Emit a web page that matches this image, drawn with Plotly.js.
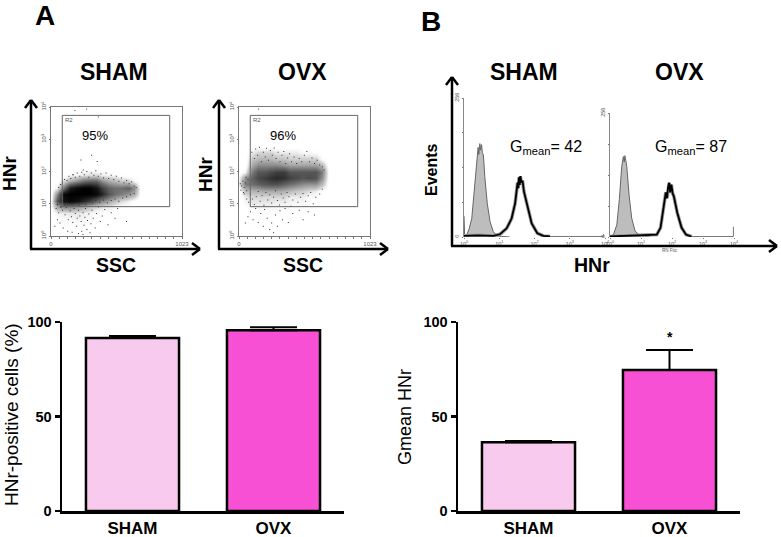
<!DOCTYPE html>
<html><head><meta charset="utf-8">
<script src="https://cdn.plot.ly/plotly-3.0.1.min.js"></script>
<style>html,body{margin:0;padding:0;background:#fff}#c{width:781px;height:537px}</style>
</head><body><div id="c"></div>
<script>
// ---------- bar data ----------
const groups = ['SHAM','OVX'];
const barColors = ['#F8CBEE','#F750D4'];
const positiveCells = [91.5,95.6];
const positiveErr = [1.1,1.6];
const gmeanValues = [36.4,74.6];
const gmeanErr = [0.7,10.6];

// ---------- dot plots: density (0 = empty, 10 = solid), SSC columns, log10 HNr rows ----------
const densitySSC = [0,50,100,150,200,250,300,350,400,450,500,550,600,650,700];
const shamDensityLog = [0,0.5,0.7,0.9,1.1,1.3,1.5,1.7,1.9,2.1,4];
const shamDensity = [
 [0,0,0,0,0,0,0,0,0,0,0,0,0,0,0],
 [0,.4,.6,.6,.7,.7,.5,.3,.2,.1,0,0,0,0,0],
 [0,.8,1,1.2,1.2,1,.8,.5,.4,.3,.2,.1,0,0,0],
 [.2,3,4,4,3.5,3,2.2,1.5,1.2,1,.5,.3,.1,0,0],
 [.3,6,9,9.5,9,8,7,5.5,4.2,3.2,2.3,1.5,1,.3,0],
 [0,4,9.5,10,10,10,10,9.5,8,6,5,4.5,3.8,3,0],
 [0,1,5,8.5,9.5,10,10,9,7,5.5,5,5,5.5,4,0],
 [0,0,1.5,3,4,5,5.5,5.5,4,3,2.6,2,1.8,.8,0],
 [0,0,0,.6,.8,1.2,1.4,1.5,1,.8,.6,.3,.1,0,0],
 [0,0,0,0,.1,.1,.1,.1,.1,0,0,0,0,0,0],
 [0,0,0,0,0,0,0,0,0,0,0,0,0,0,0]];
const ovxDensityLog = [0,0.6,0.8,1.0,1.2,1.4,1.6,1.8,2.0,2.2,2.4,2.6,2.8,4];
const ovxDensity = [
 [0,0,0,0,0,0,0,0,0,0,0,0,0,0,0],
 [0,0,.2,.3,.3,.3,.2,.1,.1,0,0,0,0,0,0],
 [0,.1,.5,.5,.5,.5,.5,.4,.3,.2,.1,0,0,0,0],
 [0,.5,1,1,1,1,.8,.8,.7,.5,.5,.3,.1,0,0],
 [0,1,1.5,1.5,1.5,1.5,1.5,1.5,1,1,1,.5,.5,0,0],
 [0,2.2,2.6,2.8,3,3,3,2.8,2.4,2,1.8,1.4,1,.2,0],
 [1,4.5,5,5.5,6,6.2,6.2,5.5,5,4.5,4,3.8,3.8,2.4,0],
 [.8,3.8,5.5,6.5,7,7.5,7.8,7.5,6.8,6.4,6,6.4,6,3.8,0],
 [0,.7,4.5,6,6,6.5,7,7,6,6,6,6,6,4.5,0],
 [0,0,3,4,4,4,4,3.6,3.2,3.2,3.2,3.2,3.2,2.4,0],
 [0,0,2,2.6,2.6,2.6,2.2,2.2,1.8,1.8,1.8,1.8,1.8,.5,0],
 [0,0,1,1.5,1.5,1.5,1,1,1,1,.5,.5,.3,0,0],
 [0,0,0,0,.1,.1,0,0,0,0,0,0,0,0,0],
 [0,0,0,0,0,0,0,0,0,0,0,0,0,0,0]];
const shamDotSSC = [278,187,369,317,234,361,252,174,
 40,60,75,90,110,120,135,150,160,170,180,190,200,205,215,225,235,240,250,258,265,270,280,285,295,305,312,320,330,345,355,370,385,400,420,445,470,500,520,590,50,30,95,130,165,215,250,70,
 60,75,90,105,125,140,155,170,190,205,225,240,260,280,295,315,335,350,370,390,410,430,450,470,490,510,530,550,570,590,610,630,650,665,
 50,80,110,140,165,195,220,245,270,300,325,350,380,410,440,470,500,530,560,590,620,650];
const shamDotLog = [3.94,3.89,3.69,2.5,2.36,2.31,2.05,1.9,
 .85,.72,.9,.8,.66,.88,.5,.78,.6,.42,.85,.7,.3,.55,.8,.62,.45,.15,.72,.33,.58,.85,.2,.48,.68,.1,.38,.8,.55,.25,.7,.9,.45,.62,.82,.35,.72,.55,.85,.45,.5,.3,.25,.15,.12,.08,.05,.4,
 1.5,1.6,1.68,1.75,1.72,1.85,1.78,1.9,1.82,1.95,1.85,1.98,1.9,2.0,1.82,1.95,1.88,2.02,1.85,1.92,1.8,1.95,1.78,1.88,1.75,1.85,1.7,1.8,1.65,1.72,1.62,1.68,1.55,1.5,
 .98,.9,.95,.92,.98,1.02,.95,1.05,.98,1.08,1.02,1.1,1.05,1.12,1.02,1.1,1.15,1.08,1.18,1.22,1.28,1.32];
const ovxDotSSC = [153,
 100,120,130,145,160,175,190,205,215,230,245,260,275,290,305,320,335,350,365,380,395,410,430,450,470,490,510,530,550,570,590,610,630,650,665,
 10,20,30,40,50,60,70,35,15,55,
 40,60,75,90,105,120,135,150,165,180,195,210,225,240,255,270,285,300,315,330,345,360,375,390,405,420,440,460,480,500,520,540,560,580,600,630,650,
 70,90,110,130,150,170,190,200,220,240,255,270,285,300,320,340,360,385,420,470,500,540,590,50];
const ovxDotLog = [3.94,
 2.6,2.4,2.7,2.5,2.75,2.3,2.6,2.45,2.72,2.35,2.65,2.5,2.73,2.4,2.6,2.3,2.5,2.62,2.25,2.42,2.55,2.3,2.45,2.25,2.4,2.3,2.5,2.62,2.3,2.42,2.25,2.35,2.2,2.15,2.05,
 1.62,1.55,1.7,1.5,1.65,1.4,1.75,1.35,1.42,1.82,
 1.3,1.15,1.05,1.3,1.15,.98,1.22,1.38,1.08,1.25,.95,1.35,1.12,1.28,1.02,1.2,1.4,1.1,.96,1.3,1.18,1.05,1.35,1.22,.92,1.12,1.3,1.05,1.2,1.32,1.08,1.25,1.35,1.0,1.2,1.3,1.45,
 .6,.75,.5,.85,.42,.7,.3,.82,.55,.2,.4,.1,.65,.3,.78,.5,.85,.42,.7,.8,.5,.75,.65,.4];
const gateSSC = [88,927];
const gateLog = [0.91,3.74];

// ---------- histograms: log10 HNr, events ----------
const shamCtrlX = [0,0,.02,.08,.15,.22,.28,.34,.38,.40,.42,.45,.47,.50,.52,.55,.59,.66,.74,.83,.93,1.07,1.3];
const shamCtrlY = [39,6,0,4,16,34,81,126,150,165,152,172,160,170,155,151,111,62,28,10,3,1,0];
const shamStainX = [0,.4,.83,1.02,1.21,1.35,1.45,1.50,1.52,1.54,1.56,1.58,1.60,1.63,1.66,1.70,1.80,1.92,2.08,2.25,2.44];
const shamStainY = [2,3,2,5,16,34,62,86,100,90,110,96,112,100,104,84,56,25,7,2,1];
const shamTailX = [2.44,3.96,3.96];
const shamTailY = [1,1,5];
const ovxCtrlX = [0,.11,.22,.30,.38,.41,.43,.46,.48,.51,.54,.62,.70,.81,.97,1.29];
const ovxCtrlY = [0,5,25,77,146,160,166,155,168,158,146,84,39,12,3,0];
const ovxStainX = [0,.97,1.29,1.51,1.63,1.74,1.80,1.84,1.87,1.91,1.94,1.98,2.02,2.06,2.17,2.31,2.45,2.63];
const ovxStainY = [1,3,3,5,19,63,92,80,102,112,92,108,90,84,50,19,5,1];
const ovxTailX = [2.63,3.98,3.98];
const ovxTailY = [1,1,21];

// ---------- tick labels ----------
const decadeVals = [0,1,2,3,4];
const decadeText = ['10<sup>0</sup>','10<sup>1</sup>','10<sup>2</sup>','10<sup>3</sup>','10<sup>4</sup>'];
const sscLabelVals = [0,1023];
const sscLabelText = ['0','1023'];
const sscMinorVals = [64,128,192,256,320,384,448,512,576,640,704,768,832,896,960];
const eventVals = [0,256];
const eventText = ['0','256'];
const eventMinorVals = [64,128,192];
const pctVals = [0,50,100];

// ---------- pixel helpers ----------
const W = 781, H = 537, FONT = '"Liberation Sans", Arial, sans-serif';
const px = x => x / W, py = y => 1 - y / H;
const line = (x0,y0,x1,y1,w,c) => ({type:'line',xref:'paper',yref:'paper',x0:px(x0),y0:py(y0),x1:px(x1),y1:py(y1),
  line:{color:c||'#000',width:w||2.5}});
const note = (t,x,y,size,bold,extra) => Object.assign({text:bold?'<b>'+t+'</b>':t,xref:'paper',yref:'paper',x:px(x),y:py(y),
  xanchor:'center',yanchor:'middle',showarrow:false,font:{family:FONT,size:size,color:'#000'}},extra||{});

const shapes = [], annotations = [], data = [], layout = {
  width:W,height:H,margin:{l:0,r:0,t:0,b:0},paper_bgcolor:'#fff',plot_bgcolor:'rgba(0,0,0,0)',showlegend:false,
  font:{family:FONT,color:'#000'},shapes:shapes,annotations:annotations};

function arrowAxes(x, yTop, yBot, xTip){
  shapes.push(line(x,yTop,x,yBot),line(x-1,yBot,xTip,yBot),
    line(x-6,yTop+8,x,yTop),line(x+6,yTop+8,x,yTop),
    line(xTip-8,yBot-6,xTip,yBot),line(xTip-8,yBot+6,xTip,yBot));
}
arrowAxes(31,100,249,200); arrowAxes(219,100,249,388); arrowAxes(452,77,246,777);

function addAxes(n,x0,x1,yTop,yBot,xa,ya){
  layout['xaxis'+n] = Object.assign({domain:[px(x0),px(x1)],anchor:'y'+n,zeroline:false,showgrid:false,fixedrange:true},xa);
  layout['yaxis'+n] = Object.assign({domain:[py(yBot),py(yTop)],anchor:'x'+n,zeroline:false,showgrid:false,fixedrange:true},ya);
}

// dot plots
function dotPlot(n,x0,x1,rows,density,dots){
  const xName='x'+n, yName='y'+n, tiny={family:FONT,size:6,color:'#555'};
  addAxes(n,x0,x1,107,236,
    {range:[0,1023],showline:true,mirror:true,linecolor:'#777',linewidth:1,tickmode:'array',
     tickvals:sscLabelVals,ticktext:sscLabelText,ticks:'outside',ticklen:1.5,tickcolor:'#777',tickfont:tiny,
     minor:{tickmode:'array',tickvals:sscMinorVals,ticks:'outside',ticklen:1.5,tickcolor:'#777'}},
    {range:[0,4],showline:true,mirror:true,linecolor:'#777',linewidth:1,tickmode:'array',
     tickvals:decadeVals,ticktext:decadeText,ticks:'outside',ticklen:1.5,tickcolor:'#777',tickangle:-90,tickfont:tiny});
  data.push({type:'heatmap',x:densitySSC,y:rows,z:density,xaxis:xName,yaxis:yName,zmin:0,zmax:10,zsmooth:'best',showscale:false,
    colorscale:[[0,'rgba(255,255,255,0)'],[0.15,'rgb(215,215,215)'],[0.5,'rgb(110,110,110)'],[0.85,'rgb(25,25,25)'],[1,'rgb(0,0,0)']],hoverinfo:'skip'});
  data.push({type:'scatter',mode:'markers',x:dots[0],y:dots[1],xaxis:xName,yaxis:yName,
    marker:{size:1,color:'#333',symbol:'square',line:{width:0}},hoverinfo:'skip'});
  shapes.push({type:'rect',xref:xName,yref:yName,x0:gateSSC[0],x1:gateSSC[1],y0:gateLog[0],y1:gateLog[1],
    line:{color:'#666',width:1}});
}
dotPlot(1,51,182,shamDensityLog,shamDensity,[shamDotSSC,shamDotLog]);
dotPlot(2,239,370,ovxDensityLog,ovxDensity,[ovxDotSSC,ovxDotLog]);

// histograms
function histPlot(n,x0,x1,yTop,ctrl,stain,tail){
  const tiny={family:FONT,size:5.5,color:'#555'};
  addAxes(n,x0,x1,yTop,237,
    {range:[0,4],tickmode:'array',tickvals:decadeVals,ticktext:decadeText,ticks:'outside',ticklen:1,tickcolor:'#777',tickfont:tiny,showline:false},
    {range:[0,256],tickmode:'array',tickvals:eventVals,ticktext:eventText,ticks:'outside',ticklen:1.5,tickcolor:'#777',tickangle:-90,
     tickfont:tiny,showline:true,linecolor:'#888',linewidth:1,
     minor:{tickmode:'array',tickvals:eventMinorVals,ticks:'outside',ticklen:1.5,tickcolor:'#777'}});
  data.push({type:'scatter',mode:'lines',x:ctrl[0],y:ctrl[1],xaxis:'x'+n,yaxis:'y'+n,fill:'tozeroy',fillcolor:'#bdbdbd',
    line:{color:'#666',width:1},hoverinfo:'skip'});
  data.push({type:'scatter',mode:'lines',x:tail[0],y:tail[1],xaxis:'x'+n,yaxis:'y'+n,
    line:{color:'#777',width:1},hoverinfo:'skip'});
  data.push({type:'scatter',mode:'lines',x:stain[0],y:stain[1],xaxis:'x'+n,yaxis:'y'+n,
    line:{color:'#999',width:3.5},hoverinfo:'skip'});
  data.push({type:'scatter',mode:'lines',x:stain[0],y:stain[1],xaxis:'x'+n,yaxis:'y'+n,
    line:{color:'#000',width:1.8},hoverinfo:'skip'});
}
histPlot(3,464,605,98,[shamCtrlX,shamCtrlY],[shamStainX,shamStainY],[shamTailX,shamTailY]);
histPlot(4,610,734,113,[ovxCtrlX,ovxCtrlY],[ovxStainX,ovxStainY],[ovxTailX,ovxTailY]);

// bar charts
function barPlot(n,x0,x1,vals,errs){
  addAxes(n,x0,x1,322,511,
    {type:'category',categoryorder:'array',categoryarray:groups,range:[-0.5,1.5],showline:true,linecolor:'#000',linewidth:2.5,
     ticks:'',tickfont:{family:FONT,size:17,color:'#000',weight:700}},
    {range:[0,100],tickmode:'array',tickvals:pctVals,ticktext:pctVals.map(String),showline:true,linecolor:'#000',linewidth:2.5,ticks:'outside',ticklen:5,tickwidth:2.5,tickcolor:'#000',
     tickfont:{family:FONT,size:14.5,color:'#000',weight:700}});
  data.push({type:'bar',x:groups,y:vals,xaxis:'x'+n,yaxis:'y'+n,width:0.66,
    marker:{color:barColors,line:{color:'#000',width:2.5}},
    error_y:{type:'data',symmetric:false,array:errs,arrayminus:[0,0],color:'#000',thickness:2,width:23.5},hoverinfo:'skip'});
}
barPlot(5,62,344,positiveCells,positiveErr);
barPlot(6,458,740,gmeanValues,gmeanErr);

// text
annotations.push(
  note('A',45,15,28,true), note('B',431,22,28,true),
  note('SHAM',114,72,23,true), note('OVX',302,72,23,true),
  note('SHAM',524,72,23,true), note('OVX',679,72,23,true),
  note('HNr',9,174,19,true,{textangle:-90}), note('HNr',205,174,19,true,{textangle:-90}),
  note('SSC',116,265,19.5,true), note('SSC',303,265,19.5,true),
  note('95%',95,136,13,false), note('96%',283,136,13,false),
  note('R2',69,120,6,false,{font:{family:FONT,size:6,color:'#555'}}),
  note('R2',257,120,6,false,{font:{family:FONT,size:6,color:'#555'}}),
  note('Events',431,170,16,true,{textangle:-90}),
  note('HNr',592,265,19.5,true),
  note('G<sub>mean</sub>= 42',546,147,16,false), note('G<sub>mean</sub>= 87',691,147,16,false),
  note('RN Fitc',670,250,4.5,false,{font:{family:FONT,size:4.5,color:'#555'}}),
  note('HNr-positive cells (%)',11,415,19,false,{textangle:-90}),
  note('Gmean HNr',405,417,18,false,{textangle:-90}),
  {text:'<b>*</b>',xref:'x6',yref:'y6',x:'OVX',y:92,showarrow:false,font:{family:FONT,size:14,color:'#000'}}
);

Plotly.newPlot('c',data,layout,{displayModeBar:false,staticPlot:true});
</script></body></html>
